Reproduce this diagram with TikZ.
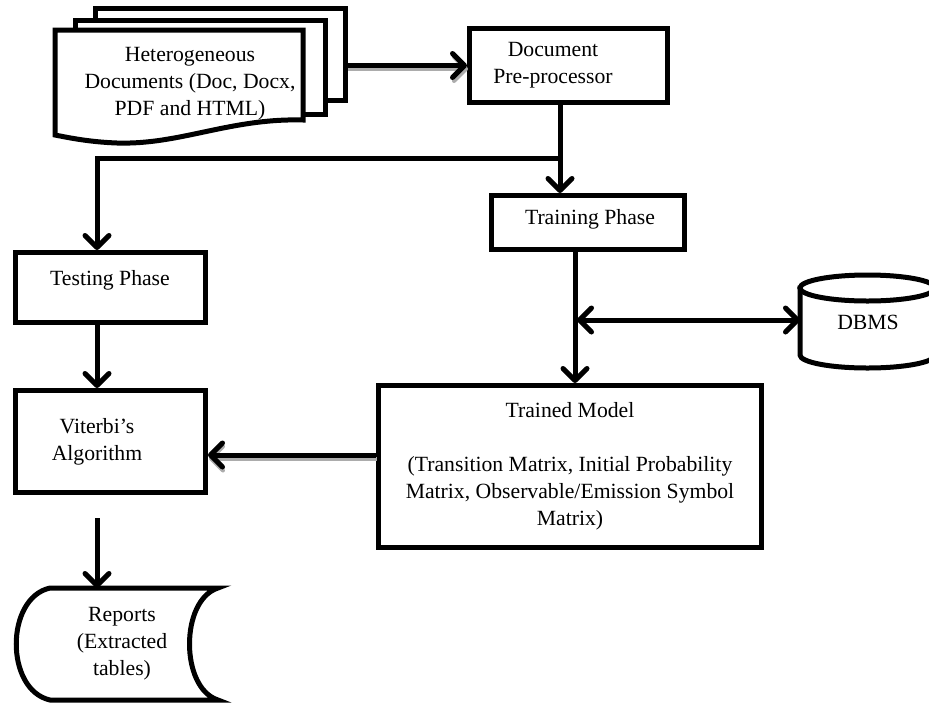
\documentclass[tikz,border=0pt]{standalone}
\usepackage{fontspec}
\setmainfont{Liberation Serif}
\usetikzlibrary{arrows.meta}
\begin{document}
\begin{tikzpicture}[x=1pt,y=-1pt,
  box/.style={draw, line width=5pt, fill=white, inner sep=0pt, align=center,
    font=\fontsize{21.7}{27}\selectfont},
  txt/.style={font=\fontsize{21.7}{27}\selectfont, align=center, inner sep=0pt},
  shape line/.style={line width=5pt, fill=white},
  conn/.style={line width=5pt, -{Straight Barb[length=12pt,width=24pt,round]}},
  biconn/.style={line width=5pt, {Straight Barb[length=12pt,width=24pt,round]}-{Straight Barb[length=12pt,width=24pt,round]}},
  plain/.style={line width=5pt},
  shadowed/.style={preaction={draw=gray!65, line width=4pt, transform canvas={shift={(1pt,-3.5pt)}}}},
]
\clip (0,0) rectangle (929,710);

% multi-document
\draw[shape line] (95,8) rectangle (345,100);
\draw[shape line] (75,20) rectangle (325,114);
\draw[shape line] (55,30) -- (303,30) -- (303,120)
  .. controls (230,118) and (180,145) .. (117,143)
  .. controls (90,142) and (70,138) .. (55,135) -- cycle;
\node[txt] (docs) at (190,84) {Heterogeneous\\Documents (Doc, Docx,\\PDF and HTML)};
\coordinate (docsR) at (347,65.5);

% boxes
\node[box, minimum width=198pt, minimum height=74pt] (pre) at (568.5,65.5) {};
\node[txt] (pretxt) at (553,65) {Document\\Pre-processor};
\node[box, minimum width=193pt, minimum height=54pt] (train) at (588,222.5) {};
\node[txt] (traintxt) at (590,219) {Training Phase};
\node[box, minimum width=190pt, minimum height=70pt] (test) at (110.5,287.5) {};
\node[txt] (testtxt) at (110,280) {Testing Phase};
\node[box, minimum width=190pt, minimum height=102pt] (vit) at (110.5,441.5) {};
\node[txt] (vittxt) at (97,442) {Viterbi’s\\Algorithm};
\node[box, minimum width=383pt, minimum height=162pt] (model) at (570,466.5)
  {Trained Model\\[27pt](Transition Matrix, Initial Probability\\Matrix, Observable/Emission Symbol\\Matrix)};

% reports
\draw[shape line] (50,588) -- (218,588) .. controls (180,600) and (180,688) .. (218,700)
  -- (50,700) .. controls (5,690) and (5,598) .. (50,588) -- cycle;
\node[txt] (rep) at (122,644) {Reports\\(Extracted\\tables)};
\coordinate (repN) at (97,588);

% DBMS cylinder
\draw[shape line] (800,288) -- (800,355) arc[start angle=180, end angle=0, x radius=67.5, y radius=13] -- (935,288) -- cycle;
\draw[shape line] (867.5,288) ellipse [x radius=67.5, y radius=13];
\node[txt] (db) at (868,322) {DBMS};
\coordinate (dbW) at (800,320);

% connectors
\coordinate (J) at (560,158);
\coordinate (T1) at (97,158);
\coordinate (V) at (97,0);
\coordinate (K) at (575,0);
\coordinate (D) at (577,320);
\coordinate (M1) at (0,455);
\coordinate (R1) at (97,518);

\draw[conn, shadowed] (docsR) -- (pre.west |- docsR);
\draw[plain] (pre.south -| J) -- (J);
\draw[conn] (J) -- (J |- train.north);
\draw[conn] (J) -- (T1) -- (T1 |- test.north);
\draw[conn] (train.south -| K) -- (model.north -| K);
\draw[biconn] (D) -- (dbW);
\draw[conn] (test.south -| V) -- (vit.north -| V);
\draw[conn, shadowed] (M1 -| model.west) -- (M1 -| vit.east);
\draw[conn] (R1) -- (repN);
\end{tikzpicture}
\end{document}
